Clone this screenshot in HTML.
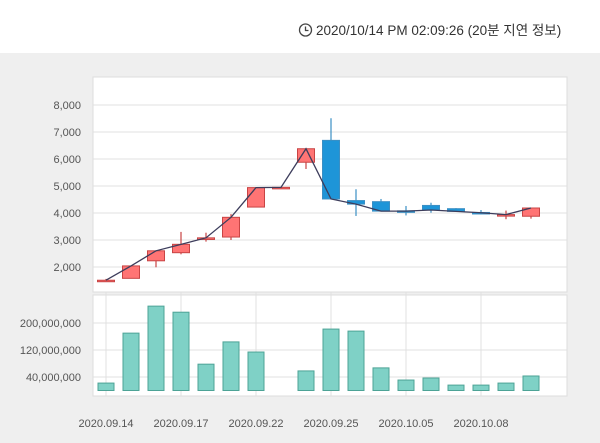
<!DOCTYPE html>
<html><head><meta charset="utf-8"><style>
body{margin:0;width:600px;height:443px;overflow:hidden;background:#fff;font-family:"Liberation Sans","Noto Sans CJK KR",sans-serif}
svg{display:block}
</style></head><body>
<svg width="600" height="443" viewBox="0 0 600 443" id="chart">
<rect x="0" y="0" width="600" height="53" fill="#fff"/>
<rect x="0" y="53" width="600" height="390" fill="#efefef"/>
<g>
<circle cx="305.5" cy="30" r="6" fill="none" stroke="#444" stroke-width="1.3"/>
<path d="M305.5 26.5V30.5H308.5" fill="none" stroke="#444" stroke-width="1.3"/>
<text x="316" y="35" font-size="13.5" fill="#333">2020/10/14 PM 02:09:26 (20분 지연 정보)</text>
</g>
<rect x="93" y="77" width="474" height="215" fill="#fff" stroke="#ddd"/>
<rect x="93" y="295" width="474" height="101" fill="#fff" stroke="#ddd"/>
<g id="grid"></g><g id="vol"></g><g id="candles"></g><g id="labels"></g>
</svg>
<script>
const dates=["09.14","09.15","09.16","09.17","09.18","09.21","09.22","09.23","09.24","09.25","09.28","10.05","10.06","10.07","10.08","10.12","10.13","10.14"];
const opens=[1510,1580,2230,2530,3020,3110,4220,4950,5880,6690,4460,4420,4080,4280,4160,4020,3940,3880];
const highs=[1560,2040,2600,3300,3270,3960,4950,4960,6380,7510,4880,4520,4260,4380,4180,4110,4090,4185];
const lows=[1500,1580,1990,2470,2940,3000,4220,4940,5630,4520,3890,4070,3910,4010,4050,3950,3770,3790];
const closes=[1510,2040,2600,2840,3080,3840,4940,4950,6380,4520,4330,4070,4070,4110,4060,4010,3940,4185];
const volumes=[22,170,250,232,78,144,114,null,58,182,176,67,31,37,16,16,22,43];
const priceTicks=[2000,3000,4000,5000,6000,7000,8000];
const volTicks=[40,120,200];
const xLabels=["2020.09.14","2020.09.17","2020.09.22","2020.09.25","2020.10.05","2020.10.08"];
const xLabelIdx=[0,3,6,9,12,15];
const NS="http://www.w3.org/2000/svg";
const xs=i=>106+i*25;
const yp=v=>105+(8000-v)*0.027;
const yv=v=>390.5-v*27/80;
function mk(parent,tag,attrs){const e=document.createElementNS(NS,tag);for(const k in attrs)e.setAttribute(k,attrs[k]);document.getElementById(parent).appendChild(e);return e;}
priceTicks.forEach(t=>{
 const l=mk('grid','line',{x1:93,x2:567,y1:yp(t),y2:yp(t),stroke:'#e0e0e0'});
 
 
 const tx=mk('labels','text',{x:81,y:yp(t)+4,'text-anchor':'end','font-size':11,fill:'#555'});
 tx.textContent=t.toLocaleString('en-US');
 
 
});
volTicks.forEach(t=>{
 const l=mk('grid','line',{x1:93,x2:567,y1:yv(t),y2:yv(t),stroke:'#e0e0e0'});
 
 
 const tx=mk('labels','text',{x:81,y:yv(t)+4,'text-anchor':'end','font-size':11,fill:'#555'});
 tx.textContent=(t*1000000).toLocaleString('en-US');
 
 
});
xLabelIdx.forEach((idx,k)=>{
 const x=xs(idx);
 const l1=mk('grid','line',{x1:x,x2:x,y1:292,y2:396,stroke:'#e0e0e0'});
 
 
 const tx=mk('labels','text',{x:x,y:427,'text-anchor':'middle','font-size':11,fill:'#555'});
 tx.textContent=xLabels[k];
 
 
});
volumes.forEach((v,i)=>{
 if(v==null)return;
 const r=mk('vol','rect',{x:xs(i)-8,y:yv(v),width:16,height:390.5-yv(v),fill:'#7fd1c6',stroke:'#4da396','stroke-width':1});
 
 
});
opens.forEach((o,i)=>{
 const c=closes[i],up=c>=o,x=xs(i);
 const col=up?'#c84444':'#3b8fc4',fill=up?'#ff7474':'#1e95d8';
 const w=mk('candles','line',{x1:x,x2:x,y1:yp(highs[i]),y2:yp(lows[i]),stroke:col,'stroke-width':1.2});
 
 
 const top=yp(Math.max(o,c)),h=Math.max(1.5,yp(Math.min(o,c))-top);
 const b=mk('candles','rect',{x:x-8.5,y:top,width:17,height:h,fill:fill,stroke:col,'stroke-width':1});
 
 
});
const pl=mk('candles','polyline',{points:closes.map((c,i)=>xs(i)+','+yp(c)).join(' '),fill:'none',stroke:'#3d3d5c','stroke-width':1.3});


</script>
</body></html>
